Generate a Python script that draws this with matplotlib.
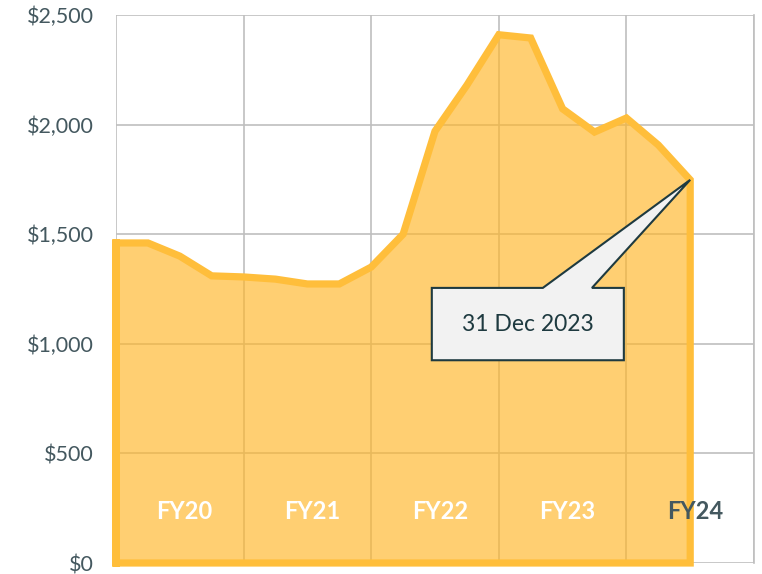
import matplotlib
matplotlib.use("Agg")
import matplotlib.pyplot as plt
from matplotlib.patches import Polygon
from matplotlib.ticker import FuncFormatter

# ---- data ----
quarters = list(range(19))  # quarter index from start of FY20
values = [1460, 1460, 1400, 1310, 1305, 1295, 1273, 1273, 1350, 1500,
          1970, 2180, 2410, 2395, 2072, 1966, 2030, 1907, 1748]
fy_labels = ["FY20", "FY21", "FY22", "FY23", "FY24"]
yticks = [0, 500, 1000, 1500, 2000, 2500]
callout_text = "31 Dec 2023"

plt.rcParams['font.family'] = ['Lato', 'DejaVu Sans']

fig = plt.figure(figsize=(7.62, 5.74), dpi=100)
ax = fig.add_axes([116/762, 11/574, (754-116)/762, (563-15)/574])

ax.set_xlim(0, 20)
ax.set_ylim(0, 2500)

grid_c = "#BFBFBF"
ax.set_yticks(yticks)
ax.set_xticks([0, 4, 8, 12, 16, 20])
ax.grid(True, color=grid_c, linewidth=1.2, zorder=0)
ax.set_axisbelow(True)
for s in ax.spines.values():
    s.set_visible(False)
ax.spines['right'].set_visible(True)
ax.spines['right'].set_color(grid_c)
ax.spines['right'].set_linewidth(1.2)

ax.yaxis.set_major_formatter(FuncFormatter(lambda v, p: "${:,.0f}".format(v)))
ax.tick_params(axis='y', length=0, pad=16, labelsize=15.5, labelcolor="#44585F")
ax.tick_params(axis='x', length=0, labelbottom=False)

# area
ax.fill_between(quarters, values, 0, color="#FFB626", alpha=0.65, linewidth=0, zorder=2)
ox = [quarters[0]] + quarters + [quarters[-1], quarters[0], quarters[0]]
oy = [0] + values + [0, 0, values[0]]
ax.plot(ox, oy, color="#FFBE3B", linewidth=5.2, solid_joinstyle='miter',
        solid_capstyle='projecting', clip_on=False, zorder=3)

# FY labels
for i, lab in enumerate(fy_labels):
    xc = i * 4 + 2.15
    col = "white" if i < 4 else "#44585F"
    ax.text(xc, 235, lab, ha='center', va='center', fontsize=17, fontweight='bold',
            color=col, zorder=4)

# callout
tx = quarters[-1] / 20
ty = values[-1] / 2500
bx0, bx1 = 0.495, 0.796
by0, by1 = 0.370, 0.502
wx0, wx1 = 0.669, 0.746
verts = [(bx0, by0), (bx1, by0), (bx1, by1), (wx1, by1), (tx, ty), (wx0, by1), (bx0, by1)]
poly = Polygon(verts, closed=True, transform=ax.transAxes, facecolor="#F2F2F2",
               edgecolor="#1E3A40", linewidth=1.5, joinstyle='miter', zorder=5)
ax.add_patch(poly)
ax.text((bx0 + bx1) / 2, (by0 + by1) / 2, callout_text, transform=ax.transAxes,
        ha='center', va='center', fontsize=16.5, color="#1E3A40", zorder=6)

fig.savefig("out.png", dpi=100)
